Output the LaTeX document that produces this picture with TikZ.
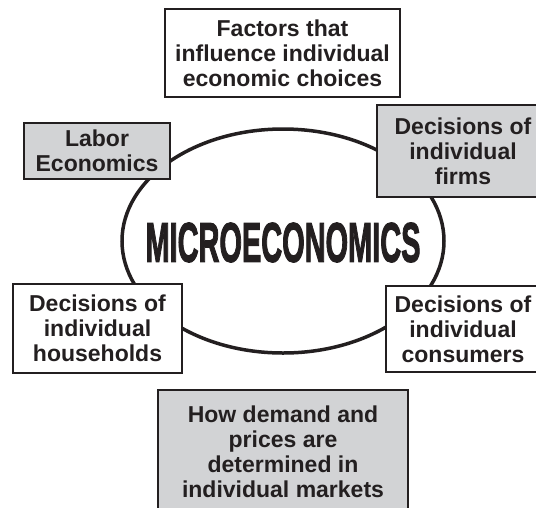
\documentclass[tikz,border=0pt]{standalone}
\usepackage{fontspec}
\setmainfont{Liberation Sans}
\newfontfamily\microfont{Liberation Sans}[BoldFeatures={FakeBold=2.5}]
\usepackage{graphicx}
\usetikzlibrary{shapes.geometric}
\definecolor{ink}{RGB}{35,31,32}
\definecolor{boxgray}{RGB}{210,211,213}
\begin{document}
\begin{tikzpicture}[x=1pt,y=-1pt,
  lbl/.style={draw=ink, line width=2pt, align=center, text=ink,
    font=\fontsize{23}{25}\selectfont\bfseries, inner sep=0pt},
  wbox/.style={lbl, fill=white},
  gbox/.style={lbl, fill=boxgray}]
\useasboundingbox (0,0) rectangle (536,507);
\node[draw=ink, line width=3.5pt, ellipse, inner sep=0pt,
      minimum width=322, minimum height=224] (ell) at (283,241) {};
\node[text=ink, inner sep=0pt] (micro) at (283,242.5)
  {\resizebox{275pt}{39pt}{\microfont\bfseries MICROECONOMICS}};
\node[wbox, minimum width=235, minimum height=88] (factors) at (282.5,53)
  {Factors that\\influence individual\\economic choices};
\node[gbox, minimum width=146, minimum height=56] (labor) at (97,151)
  {Labor\\Economics};
\node[gbox, minimum width=172, minimum height=92] (firms) at (463,151)
  {Decisions of\\individual\\firms};
\node[wbox, minimum width=169, minimum height=89] (households) at (97.5,328.5)
  {Decisions of\\individual\\households};
\node[wbox, minimum width=154, minimum height=86] (consumers) at (463,329)
  {Decisions of\\individual\\consumers};
\node[gbox, minimum width=250, minimum height=124] (markets) at (283,452)
  {How demand and\\prices are\\determined in\\individual markets};
\end{tikzpicture}
\end{document}
